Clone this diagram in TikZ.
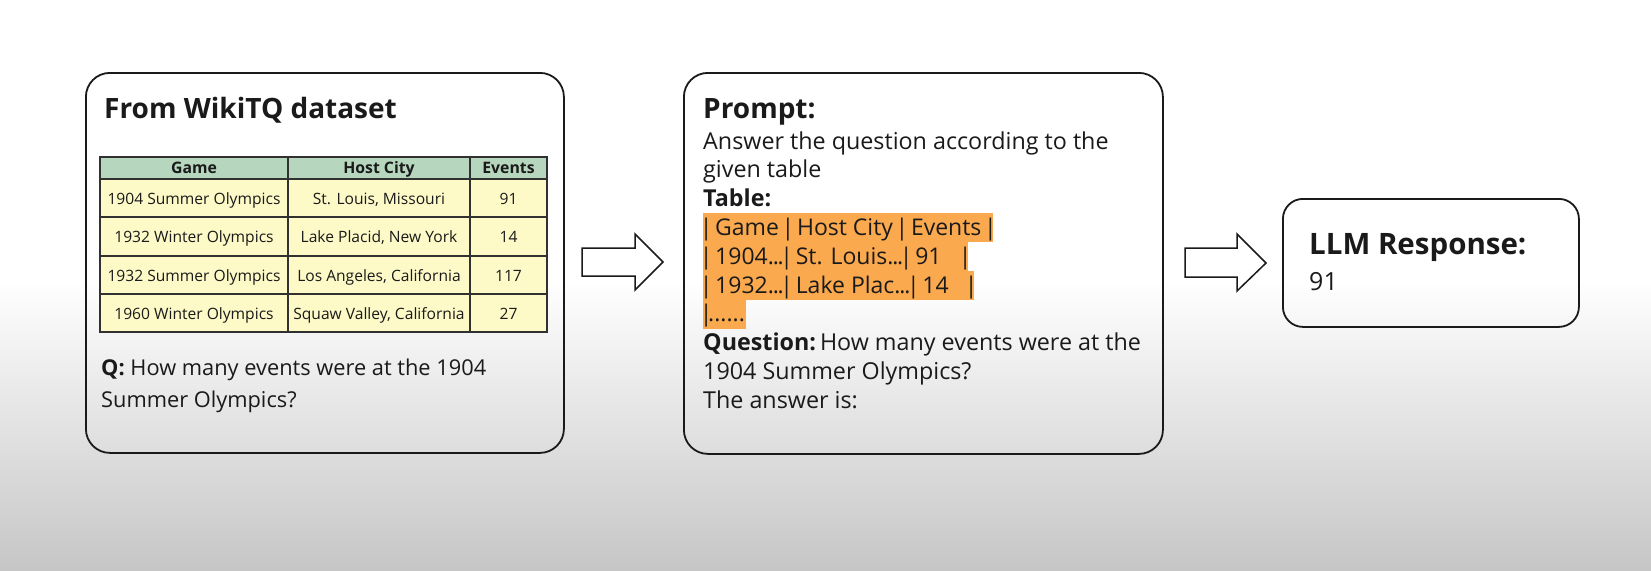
\documentclass[tikz,border=0pt]{standalone}
\usepackage{fontspec}
\setmainfont{Open Sans}
\definecolor{ink}{HTML}{1A1A1A}
\definecolor{hl}{HTML}{FBA94E}
\definecolor{hdr}{HTML}{B6D7BE}
\definecolor{rowc}{HTML}{FDFAC7}
\definecolor{bgbot}{HTML}{C6C6C6}
\newcommand\tdots{.\kern-1.2pt.\kern-1.2pt.}
\newcommand\vb{\makebox[4pt]{|}}
\newcommand\bsep{\kern7pt}
\tikzset{
  panel/.style={draw=ink, line width=1.8pt, rounded corners=24pt, anchor=north west, inner sep=0pt},
  blockarrow/.style={draw=ink, line width=1.5pt, fill=white, line join=miter},
  tline/.style={draw=ink!90, line width=1.6pt},
  headtxt/.style={font=\fontsize{28}{32}\selectfont\bfseries, text=ink, anchor=base west, inner sep=0pt},
  bodytxt/.style={font=\fontsize{23.3}{27}\selectfont, text=ink, anchor=base west, inner sep=0pt},
  qtxt/.style={font=\fontsize{21.8}{26}\selectfont, text=ink, anchor=base west, inner sep=0pt},
  hltxt/.style={font=\fontsize{23}{27}\selectfont, text=ink, anchor=base west, fill=hl, inner xsep=1pt, inner ysep=0pt, text height=22pt, text depth=7pt},
  cellh/.style={font=\fontsize{15.8}{18}\selectfont\bfseries, text=ink, anchor=base, inner sep=0pt},
  cellb/.style={font=\fontsize{15.6}{18}\selectfont, text=ink, anchor=base, inner sep=0pt},
}
\begin{document}
\begin{tikzpicture}[x=1pt,y=-1pt]
\useasboundingbox (0,0) rectangle (1651,570);
% background
\fill[white] (0,0) rectangle (1651,282);
\shade[top color=white, bottom color=bgbot] (0,280) rectangle (1651,570);

% panels
\node[panel, minimum width=478pt, minimum height=380pt] (src) at (85,72) {};
\node[panel, minimum width=479pt, minimum height=381pt] (prompt) at (683,72) {};
\node[panel, rounded corners=20pt, minimum width=296pt, minimum height=128pt] (resp) at (1282,198) {};

% block arrows
\draw[blockarrow] (582,248) -- (635,248) -- (635,234) -- (663,262) -- (635,290) -- (635,276) -- (582,276) -- cycle;
\draw[blockarrow] (1185,248) -- (1237,248) -- (1237,234) -- (1266,263) -- (1237,291) -- (1237,277) -- (1185,277) -- cycle;

% panel 1
\node[headtxt] (t1) at (104,118) {From WikiTQ dataset};
\fill[hdr] (100,157) rectangle (547,179);
\fill[rowc] (100,179) rectangle (547,332);
\draw[tline] (100,157) rectangle (547,332);
\foreach \yy in {179,217,256,294} \draw[tline] (100,\yy) -- (547,\yy);
\foreach \xx in {288,470} \draw[tline] (\xx,157) -- (\xx,332);

\node[cellh] (h1) at (194,173.5) {Game};
\node[cellh] (h2) at (379,173.5) {Host City};
\node[cellh] (h3) at (508.5,173.5) {Events};

\node[cellb] (a1) at (194,204) {1904 Summer Olympics};
\node[cellb] (b1) at (379,204) {St. Louis, Missouri};
\node[cellb] (c1) at (508.5,204) {91};
\node[cellb] (a2) at (194,242.5) {1932 Winter Olympics};
\node[cellb] (b2) at (379,242.5) {Lake Placid, New York};
\node[cellb] (c2) at (508.5,242.5) {14};
\node[cellb] (a3) at (194,281) {1932 Summer Olympics};
\node[cellb] (b3) at (379,281) {Los Angeles, California};
\node[cellb] (c3) at (508.5,281) {117};
\node[cellb] (a4) at (194,319) {1960 Winter Olympics};
\node[cellb] (b4) at (379,319) {Squaw Valley, California};
\node[cellb] (c4) at (508.5,319) {27};

\node[qtxt] (q1) at (101,375) {\textbf{Q:} How many events were at the 1904};
\node[qtxt] (q2) at (101,407) {Summer Olympics?};

% panel 2
\node[headtxt] (p0) at (703,118) {Prompt:};
\node[bodytxt] (p1) at (703,149) {Answer the question according to the};
\node[bodytxt] (p2) at (703,177.8) {given table};
\node[bodytxt] (p3) at (703,206.6) {\textbf{Table:}};
\node[hltxt] (p4) at (703,235.4) {\vb\bsep Game\bsep\vb\bsep Host City\bsep\vb\bsep Events\bsep\vb};
\node[hltxt] (p5) at (703,264.2) {\makebox[263pt][l]{\vb\bsep 1904\tdots\kern1pt\vb\bsep St. Louis\tdots\kern1pt\vb\bsep 91\hfill\vb}};
\node[hltxt] (p6) at (703,293) {\makebox[269pt][l]{\vb\bsep 1932\tdots\kern1pt\vb\bsep Lake Plac\tdots\kern1pt\vb\bsep 14\hfill\vb}};
\node[hltxt] (p7) at (703,321.8) {\vb......};
\node[bodytxt] (p8) at (703,350.6) {\textbf{Question:}\kern4pt How many events were at the};
\node[bodytxt] (p9) at (703,379.4) {1904 Summer Olympics?};
\node[bodytxt] (p10) at (703,408.2) {The answer is:};

% panel 3
\node[headtxt, font=\fontsize{29.5}{34}\selectfont\bfseries] (r0) at (1309,254) {LLM Response:};
\node[font=\fontsize{25}{29}\selectfont, text=ink, anchor=base west, inner sep=0pt] (r1) at (1309,290) {91};
\end{tikzpicture}
\end{document}
